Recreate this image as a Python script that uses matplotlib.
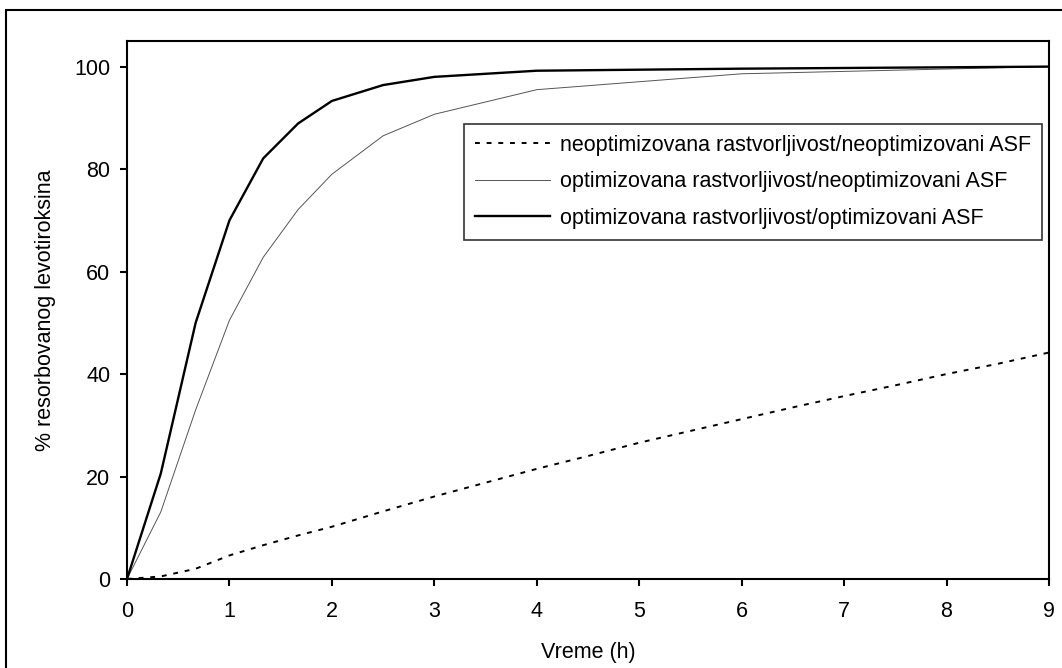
import numpy as np
import matplotlib.pyplot as plt
from matplotlib.patches import Rectangle

plt.rcParams['font.family'] = ['Liberation Sans', 'DejaVu Sans']

# vreme (h)
t_neopt = [0, 0.33, 0.67, 1, 1.33, 1.67, 2, 2.5, 3, 3.5, 4, 4.5, 5, 5.5, 6, 6.5, 7, 7.5, 8, 8.5, 9]
y_neopt = [0, 0.5, 2.0, 4.6, 6.6, 8.5, 10.2, 13.2, 16.1, 18.8, 21.5, 24.0, 26.6, 28.9, 31.2, 33.5, 35.7, 37.8, 40.0, 42.0, 44.2]

t_opt = [0, 0.33, 0.67, 1, 1.33, 1.67, 2, 2.5, 3, 4, 6, 9]
y_opt_neoasf = [0, 13.1, 33.0, 50.5, 62.8, 72.1, 79.0, 86.5, 90.7, 95.5, 98.6, 100]
y_opt_opt = [0, 20.6, 50.0, 70.0, 82.1, 88.9, 93.3, 96.4, 98.0, 99.2, 99.6, 100]

labels = ['neoptimizovana rastvorljivost/neoptimizovani ASF',
          'optimizovana rastvorljivost/neoptimizovani ASF',
          'optimizovana rastvorljivost/optimizovani ASF']

fs = 15.5

fig = plt.figure(figsize=(10.62, 6.68), dpi=100)
ax = fig.add_axes([127 / 1062, 1 - 579 / 668, 922 / 1062, 538 / 668])

ax.plot(t_neopt, y_neopt, color='black', lw=1.4, linestyle=(0, (2.5, 3.5)), label=labels[0])
ax.plot(t_opt, y_opt_neoasf, color='#555555', lw=0.7, label=labels[1])
ax.plot(t_opt, y_opt_opt, color='black', lw=1.7, label=labels[2])

ax.set_xlim(0, 9)
ax.set_ylim(0, 105)
ax.set_xticks(range(0, 10))
ax.set_yticks(range(0, 101, 20))
ax.tick_params(direction='out', length=5, width=1.5, labelsize=fs)
ax.tick_params(axis='x', pad=11)
ax.tick_params(axis='y', pad=7)
for s in ax.spines.values():
    s.set_linewidth(1.5)

ax.set_xlabel('Vreme (h)', fontsize=fs, labelpad=14)
ax.set_ylabel('% resorbovanog levotiroksina', fontsize=fs, labelpad=13)

leg = ax.legend(loc='upper left', bbox_to_anchor=(0.3655, 0.8457), fontsize=fs,
                frameon=True, fancybox=False, edgecolor='black', handlelength=3.5,
                handletextpad=0.45, borderaxespad=0, borderpad=0.5, labelspacing=0.72)
leg.get_frame().set_linewidth(1.2)

# okvir oko cele slike
fig.patches.append(Rectangle((6 / 1062, -0.05), 1.1, 1 - 10 / 668 + 0.05,
                             transform=fig.transFigure, fill=False,
                             edgecolor='black', linewidth=1.5))

fig.savefig('out.png', dpi=100)
